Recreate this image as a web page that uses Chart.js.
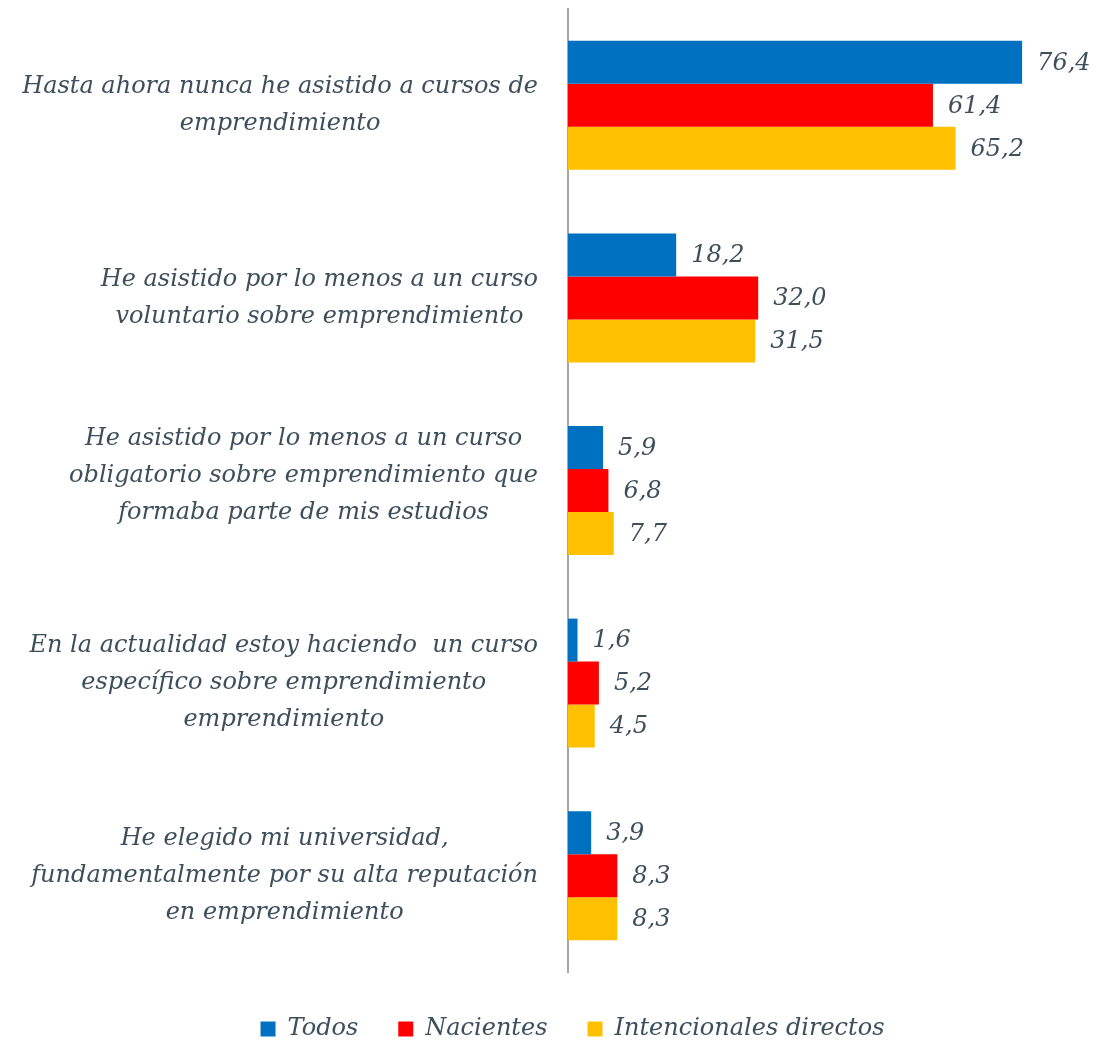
<html>
<head>
  <meta charset="utf-8"/>
  <title>Cursos de emprendimiento</title>
  <script src="https://cdn.jsdelivr.net/npm/chart.js"></script>
  <style>
    body { margin: 0; background: #fff; }
    .chart-container { width: 1097px; height: 1041px; position: relative; }
  </style>
</head>
<body>
  <div class="chart-container">
    <canvas id="cursosChart"></canvas>
  </div>

  <script>
    // categories (each one split in lines as in the original)
    const categories = [
      ['Hasta ahora nunca he asistido a cursos de', 'emprendimiento'],
      ['He asistido por lo menos a un curso', 'voluntario sobre emprendimiento'],
      ['He asistido por lo menos a un curso', 'obligatorio sobre emprendimiento que', 'formaba parte de mis estudios'],
      ['En la actualidad estoy haciendo  un curso', 'específico sobre emprendimiento', 'emprendimiento'],
      ['He elegido mi universidad,', 'fundamentalmente por su alta reputación', 'en emprendimiento']
    ];
    const seriesNames = ['Todos', 'Nacientes', 'Intencionales directos'];
    const todos = [76.4, 18.2, 5.9, 1.6, 3.9];
    const nacientes = [61.4, 32.0, 6.8, 5.2, 8.3];
    const intencionales = [65.2, 31.5, 7.7, 4.5, 8.3];

    const textColor = '#3d4f5b';
    const fontFamily = '"DejaVu Serif", serif';

    Chart.defaults.font.family = fontFamily;
    Chart.defaults.font.style = 'italic';
    Chart.defaults.font.size = 24;
    Chart.defaults.color = textColor;

    // value labels right of each bar, decimal comma
    const valueLabels = {
      id: 'valueLabels',
      afterDatasetsDraw(chart) {
        const ctx = chart.ctx;
        ctx.save();
        ctx.font = 'italic 24px ' + fontFamily;
        ctx.fillStyle = textColor;
        ctx.textAlign = 'left';
        ctx.textBaseline = 'middle';
        chart.data.datasets.forEach((ds, i) => {
          chart.getDatasetMeta(i).data.forEach((bar, j) => {
            const txt = ds.data[j].toFixed(1).replace('.', ',');
            ctx.fillText(txt, bar.x + 15, bar.y + 1);
          });
        });
        ctx.restore();
      }
    };

    // category labels, centred block ending near the axis
    const categoryLabels = {
      id: 'categoryLabels',
      afterDraw(chart) {
        const ctx = chart.ctx;
        const yScale = chart.scales.y;
        const rightEdge = chart.chartArea.left - 30;
        const lineH = 37;
        ctx.save();
        ctx.font = 'italic 24px ' + fontFamily;
        ctx.fillStyle = textColor;
        ctx.textAlign = 'center';
        ctx.textBaseline = 'middle';
        categories.forEach((lines, i) => {
          const maxW = Math.max(...lines.map(l => ctx.measureText(l).width));
          const cx = rightEdge - maxW / 2;
          // the third label sits a bit higher in the original
          const cy = yScale.getPixelForValue(i) + (i === 2 ? -15 : 0);
          const y0 = cy - (lines.length - 1) * lineH / 2;
          lines.forEach((l, k) => ctx.fillText(l, cx, y0 + k * lineH));
        });
        ctx.restore();
      }
    };

    // fixed legend height so the plot reaches down to it
    const legendHeight = {
      id: 'legendHeight',
      beforeInit(chart) {
        const fit = chart.legend.fit;
        chart.legend.fit = function () {
          fit.call(this);
          this.height = 69;
        };
      },
      afterLayout(chart) {
        chart.legend.top += 5;
        chart.legend.bottom += 5;
      }
    };

    new Chart(document.getElementById('cursosChart'), {
      type: 'bar',
      data: {
        labels: categories,
        datasets: [
          { label: seriesNames[0], data: todos, backgroundColor: '#0070C0' },
          { label: seriesNames[1], data: nacientes, backgroundColor: '#FF0000' },
          { label: seriesNames[2], data: intencionales, backgroundColor: '#FFC000' }
        ]
      },
      options: {
        indexAxis: 'y',
        responsive: true,
        maintainAspectRatio: false,
        animation: false,
        datasets: {
          bar: { categoryPercentage: 0.67, barPercentage: 1.0, borderWidth: 0 }
        },
        layout: { padding: { top: 9, left: 48, right: 0, bottom: 0 } },
        scales: {
          x: { display: false, min: 0, max: 89 },
          y: {
            grid: { display: false },
            ticks: { display: false },
            border: { display: true, color: '#a6a6a6', width: 2 },
            afterFit(scale) { scale.width = 520; }
          }
        },
        plugins: {
          legend: {
            position: 'bottom',
            labels: { boxWidth: 15, boxHeight: 15, padding: 40, color: textColor }
          },
          tooltip: { enabled: false }
        }
      },
      plugins: [valueLabels, categoryLabels, legendHeight]
    });
  </script>
</body>
</html>
